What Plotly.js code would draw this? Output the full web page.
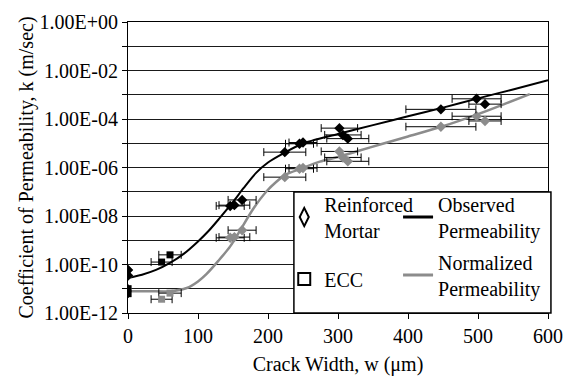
<!DOCTYPE html>
<html>
<head>
<meta charset="utf-8">
<script src="https://cdn.plot.ly/plotly-3.0.1.min.js"></script>
<style>html,body{margin:0;padding:0;background:#fff;}#chart{width:563px;height:376px;}</style>
</head>
<body>
<div id="chart"></div>
<script>
// Fitted curves
const obsCurveW = [0, 20, 40, 60, 80, 100, 115, 130, 150, 165, 183, 200, 222, 248, 300, 350, 400, 450, 500, 550, 600];
const obsCurveK = [2.8e-11, 3.8e-11, 6.0e-11, 1.17e-10, 2.8e-10, 8.9e-10, 2.4e-9, 7.6e-9, 3.8e-8, 1.4e-7, 6.0e-7, 1.6e-6, 3.8e-6, 9.3e-6, 2.4e-5, 5.6e-5, 1.3e-4, 2.95e-4, 7.1e-4, 1.66e-3, 4.0e-3];
const normCurveW = [0, 30, 60, 84, 100, 112, 129, 146, 160, 179, 198, 212, 226, 248, 274, 300, 331, 360, 400, 450, 500, 540, 574];
const normCurveK = [7.9e-12, 7.9e-12, 7.9e-12, 1.07e-11, 2.0e-11, 4.0e-11, 1.41e-10, 5.6e-10, 2.5e-9, 2.0e-8, 1.05e-7, 2.6e-7, 5.2e-7, 9.1e-7, 1.74e-6, 2.7e-6, 5.0e-6, 8.9e-6, 1.9e-5, 5.0e-5, 1.58e-4, 4.4e-4, 1.07e-3];

// Reinforced mortar specimens
const rmWidth = [0, 0, 146, 152, 163, 224, 245, 250, 302, 307, 314, 447, 498, 510];
const rmWidthErr = [0, 0, 20, 22, 20, 30, 20, 20, 26, 26, 30, 50, 35, 23];
const rmObsK = [5.9e-11, 3.5e-11, 2.6e-8, 2.8e-8, 4.6e-8, 4.3e-6, 9.5e-6, 1.07e-5, 4.2e-5, 2.2e-5, 1.55e-5, 2.5e-4, 6.8e-4, 4.1e-4];
const rmNormK = [5.9e-11, 3.5e-11, 1.26e-9, 1.35e-9, 2.6e-9, 4.0e-7, 8.9e-7, 9.5e-7, 4.6e-6, 2.6e-6, 1.8e-6, 4.8e-5, 1.3e-4, 8.3e-5];

// ECC specimens
const eccWidth = [0, 0, 48, 60];
const eccWidthErr = [0, 0, 15, 16];
const eccObsK = [1.0e-11, 6.3e-12, 1.26e-10, 2.5e-10];
const eccNormK = [1.0e-11, 6.3e-12, 3.7e-12, 6.6e-12];

// Axis ticks
const yTickVals = [1e0, 1e-1, 1e-2, 1e-3, 1e-4, 1e-5, 1e-6, 1e-7, 1e-8, 1e-9, 1e-10, 1e-11, 1e-12];
const yTickText = ['1.00E+00', '', '1.00E-02', '', '1.00E-04', '', '1.00E-06', '', '1.00E-08', '', '1.00E-10', '', '1.00E-12'];

const BLACK = '#000000';
const GRAY = '#8c8c8c';
const FONT = '"Liberation Serif", serif';

const errBar = (arr) => ({type: 'data', array: arr, symmetric: true, color: BLACK, thickness: 1, width: 4});

const traces = [
  {x: normCurveW, y: normCurveK, mode: 'lines', line: {color: GRAY, width: 2.5, shape: 'spline', smoothing: 0.8}, showlegend: false, hoverinfo: 'skip'},
  {x: obsCurveW, y: obsCurveK, mode: 'lines', line: {color: BLACK, width: 2, shape: 'spline', smoothing: 0.8}, showlegend: false, hoverinfo: 'skip'},
  {x: rmWidth, y: rmNormK, mode: 'markers', marker: {symbol: 'diamond', size: 8, color: GRAY}, error_x: errBar(rmWidthErr), showlegend: false},
  {x: eccWidth, y: eccNormK, mode: 'markers', marker: {symbol: 'square', size: 7, color: GRAY}, error_x: errBar(eccWidthErr), showlegend: false},
  {x: rmWidth, y: rmObsK, mode: 'markers', marker: {symbol: 'diamond', size: 8, color: BLACK}, error_x: errBar(rmWidthErr), showlegend: false},
  {x: eccWidth, y: eccObsK, mode: 'markers', marker: {symbol: 'square', size: 7, color: BLACK}, error_x: errBar(eccWidthErr), showlegend: false},
  // legend entries
  {x: [null], y: [null], name: 'Reinforced<br>Mortar', mode: 'markers', marker: {symbol: 'diamond-tall-open', size: 13, color: BLACK, line: {width: 2, color: BLACK}}, legend: 'legend', legendgroup: 'rm'},
  {x: [null], y: [null], name: 'ECC', mode: 'markers', marker: {symbol: 'square-open', size: 12, color: BLACK, line: {width: 2, color: BLACK}}, legend: 'legend', legendgroup: 'ecc'},
  {x: [null], y: [null], name: 'Observed<br>Permeability', mode: 'lines', line: {color: BLACK, width: 3}, legend: 'legend2', legendgroup: 'obs'},
  {x: [null], y: [null], name: 'Normalized<br>Permeability', mode: 'lines', line: {color: GRAY, width: 3}, legend: 'legend2', legendgroup: 'norm'}
];

const layout = {
  width: 563, height: 376,
  margin: {l: 128, r: 15, t: 22, b: 63},
  paper_bgcolor: '#ffffff', plot_bgcolor: '#ffffff',
  font: {family: FONT, size: 20, color: BLACK},
  xaxis: {
    range: [0, 600], tickmode: 'linear', tick0: 0, dtick: 100,
    ticks: 'outside', ticklen: 5, tickcolor: BLACK, tickwidth: 1,
    showline: true, linecolor: BLACK, linewidth: 1, mirror: true,
    showgrid: false, zeroline: false,
    tickfont: {family: FONT, size: 20, color: BLACK},
    title: {text: 'Crack Width, w (μm)', font: {family: FONT, size: 20, color: BLACK}}
  },
  yaxis: {
    type: 'log', range: [-12, 0], tickmode: 'array', tickvals: yTickVals, ticktext: yTickText,
    ticks: 'outside', ticklen: 5, tickcolor: BLACK, tickwidth: 1,
    showline: true, linecolor: BLACK, linewidth: 1, mirror: true,
    showgrid: true, gridcolor: '#1a1a1a', gridwidth: 1, zeroline: false,
    tickfont: {family: FONT, size: 20, color: BLACK},
    title: {text: 'Coefficient of Permeability, k (m/sec)', font: {family: FONT, size: 20, color: BLACK}}
  },
  shapes: [
    {type: 'rect', xref: 'paper', yref: 'paper', x0: 0.395, x1: 1.007, y0: 0.0, y1: 0.4158,
     line: {color: BLACK, width: 1.5}, fillcolor: '#ffffff', layer: 'above'}
  ],
  legend: {x: 0.372, y: 0.4416, xanchor: 'left', yanchor: 'top', bgcolor: 'rgba(0,0,0,0)', borderwidth: 0,
           traceorder: 'grouped', tracegroupgap: 20, font: {family: FONT, size: 20, color: BLACK}},
  legend2: {x: 0.643, y: 0.4416, xanchor: 'left', yanchor: 'top', bgcolor: 'rgba(0,0,0,0)', borderwidth: 0,
            traceorder: 'grouped', tracegroupgap: 3, font: {family: FONT, size: 20, color: BLACK}},
  showlegend: true
};

Plotly.newPlot('chart', traces, layout, {staticPlot: true, displayModeBar: false});
</script>
</body>
</html>
